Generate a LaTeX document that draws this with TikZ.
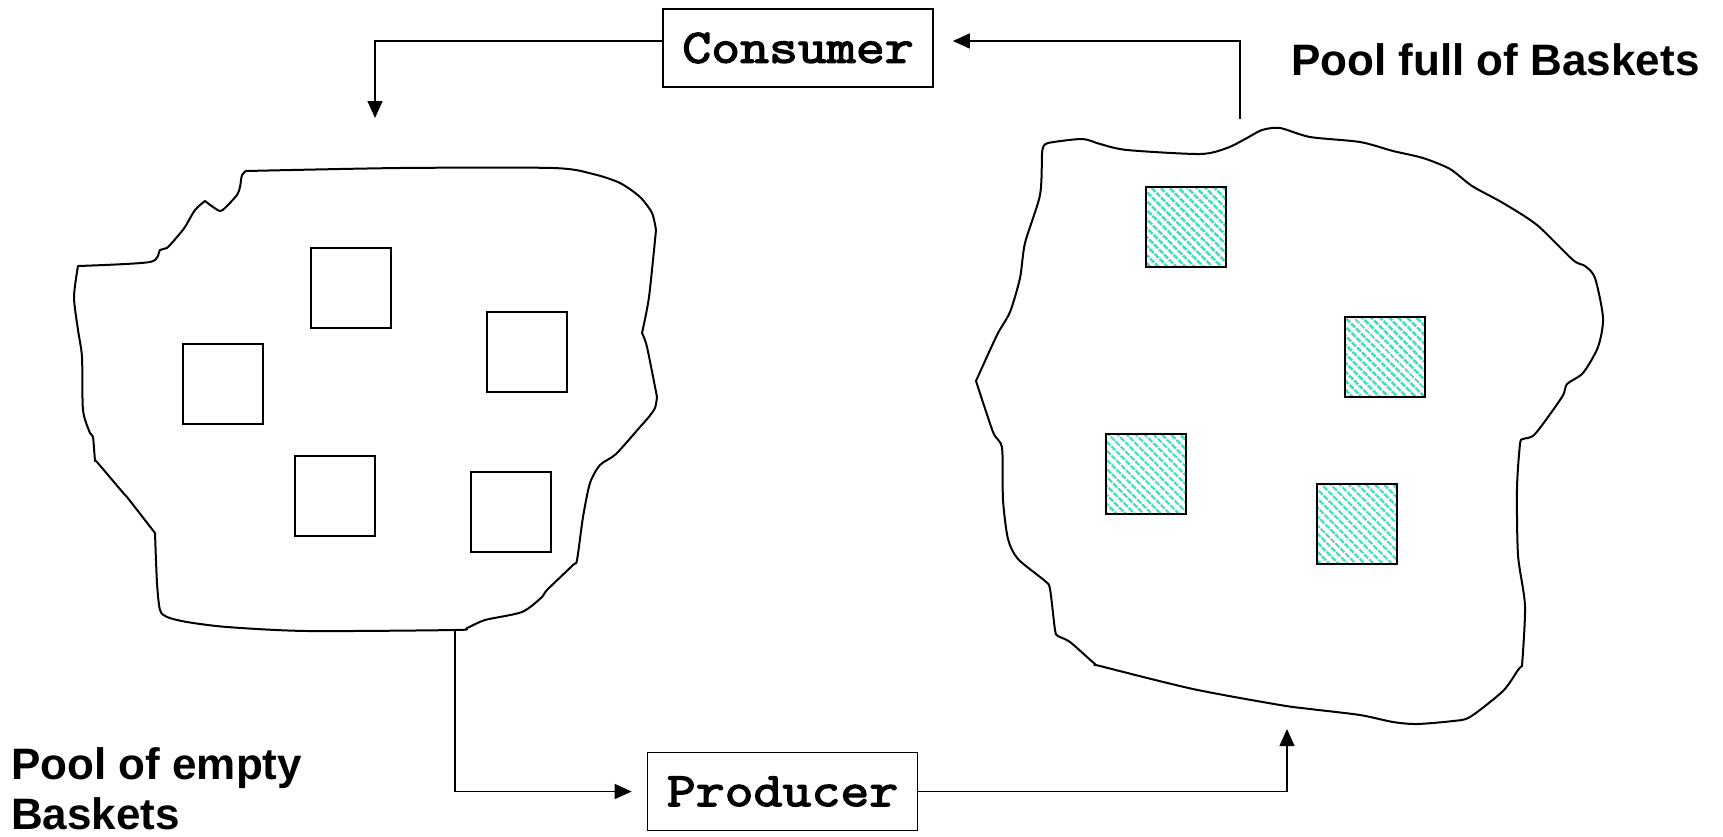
\documentclass[tikz,border=0pt]{standalone}
\usepackage{fontspec}
\setmainfont{Liberation Sans}
\newfontfamily\monobold{Latin Modern Mono}[FakeBold=3, FakeStretch=1.17]
\usetikzlibrary{arrows.meta,patterns.meta}
\definecolor{mint}{RGB}{64,224,192}
\begin{document}
\begin{tikzpicture}[x=1pt,y=-1pt,
  box/.style={draw, line width=1.6pt, minimum width=270pt, minimum height=78pt, inner sep=0pt,
    font=\monobold\fontsize{48}{52}\selectfont},
  basket/.style={draw, line width=2pt, minimum size=80pt, inner sep=0pt},
  fullbasket/.style={basket, pattern={Lines[angle=-45,distance=6.4pt,line width=2.6pt]}, pattern color=mint},
  blob/.style={line width=2pt, line join=round},
  arr/.style={line width=1.5pt, -{Triangle[length=17pt,width=15pt]}},
  poollabel/.style={font=\bfseries\fontsize{44}{52}\selectfont, inner sep=0pt, anchor=base west}
]
\useasboundingbox[fill=white] (0,0) rectangle (1723,836);

% boxes
\node[box] (consumer) at (798,48) {Consumer};
\node[box] (producer) at (782.5,791.5) {Producer};

% left blob (pool of empty baskets)
\draw[blob] (246,171)
 -- plot[smooth, tension=0.45] coordinates {
 (246,171) (400,168) (553,168) (593,174) (620,183) (640,197) (652,213) (656,230)}
 -- plot[smooth, tension=0.45] coordinates {
 (656,230) (649,297) (642,333)}
 -- plot[smooth, tension=0.45] coordinates {
 (642,333) (647,347) (657,397)}
 -- plot[smooth, tension=0.45] coordinates {
 (657,397) (655,408) (648,418) (640,427) (616,454)
 (600,465) (590,483) (583,517) (577,560) (573,565) (547,590) (542,597) (522,612)
 (485,620) (467,628) (455,630) (307,631) (227,627) (187,622) (167,617) (160,610)
 (157,583) (155,533)}
 -- plot[smooth, tension=0.45] coordinates {
 (155,533) (127,497) (125,495) (97,462) (95,460) (93,437) (90,433)
 (83,410) (82,357) (78,330) (74,297) (78,266)}
 -- plot[smooth, tension=0.45] coordinates {
 (78,266) (150,262) (160,250) (167,248)
 (177,237) (185,227) (195,210) (205,201)}
 -- plot[smooth, tension=0.45] coordinates {
 (205,201) (213,207) (220,211) (225,208) (237,195)
 (240,187) (242,175) (246,171)}
 -- cycle;

% right blob (pool full of baskets)
\draw[blob] (1043,148)
 -- plot[smooth, tension=0.45] coordinates {
 (1043,148) (1048,143) (1082,139) (1100,144) (1127,150) (1200,154) (1227,148)
 (1247,138) (1262,130) (1280,128) (1310,137) (1360,142) (1393,151) (1423,158)
 (1450,169) (1472,186) (1503,203) (1537,225) (1573,260) (1585,266) (1595,278)
 (1603,318) (1598,347) (1583,373) (1567,384) (1562,397) (1535,434) (1523,439)
 (1520,444) (1517,488) (1518,555) (1525,606) (1522,666)}
 -- plot[smooth, tension=0.45] coordinates {
 (1522,666) (1518,670) (1503,691)
 (1470,717) (1453,721) (1417,724) (1393,722) (1360,715) (1310,709) (1280,705)
 (1193,689) (1100,666) (1095,664) (1070,642) (1058,636) (1055,630) (1050,589)
 (1045,581) (1018,559) (1008,539) (1003,500) (1002,448) (993,432) (976,381)}
 -- plot[smooth, tension=0.45] coordinates {
 (976,381) (997,335) (1010,312) (1020,278) (1025,243) (1040,195) (1042,154) (1043,148)}
 -- cycle;

% empty baskets
\node[basket] (e1) at (351,287.5) {};
\node[basket] (e2) at (223,383.5) {};
\node[basket] (e3) at (527,352) {};
\node[basket] (e4) at (335,495.5) {};
\node[basket] (e5) at (511,512) {};

% full baskets
\node[fullbasket] (f1) at (1186,227) {};
\node[fullbasket] (f2) at (1385,356.5) {};
\node[fullbasket] (f3) at (1145.5,474) {};
\node[fullbasket] (f4) at (1357,524) {};

% connector end points on the pools
\coordinate (emptyout) at (455,630);
\coordinate (emptyin) at (375,118);
\coordinate (fullout) at (1240,119);
\coordinate (fullin) at (1287,729);

% connectors
\draw[arr] ([yshift=7pt]consumer.west) -| (emptyin);
\draw[arr] (emptyout) |- ([xshift=-15pt]producer.west);
\draw[arr] (producer.east) -| (fullin);
\draw[arr] (fullout) |- ([xshift=19pt,yshift=7pt]consumer.east);

% labels
\node[poollabel] (fulllabel) at (1291,75) {Pool full of Baskets};
\node[poollabel] (emptylabel1) at (11,779) {Pool of empty};
\node[poollabel] (emptylabel2) at (11,829) {Baskets};
\end{tikzpicture}
\end{document}
